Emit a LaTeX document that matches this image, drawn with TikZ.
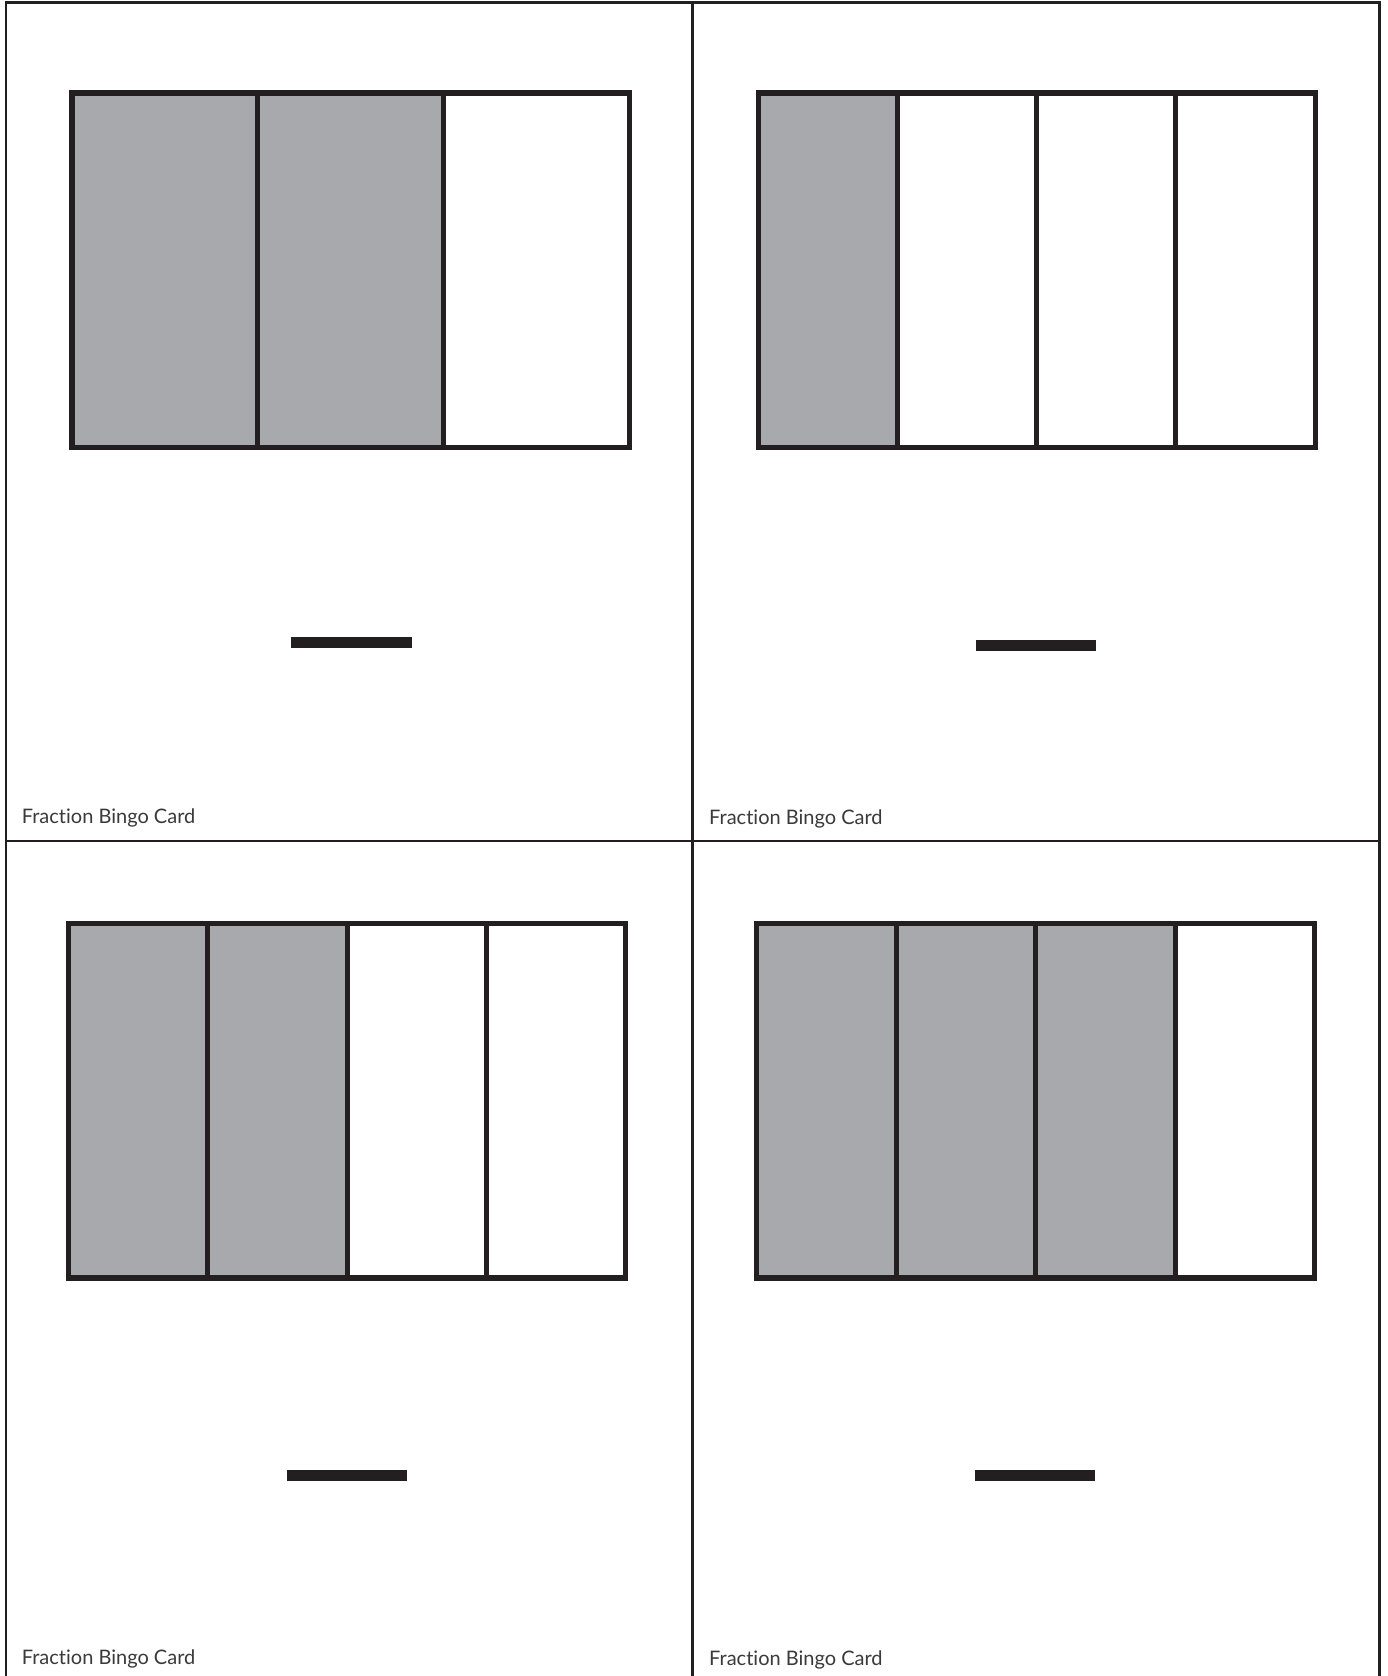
\documentclass[tikz,border=0pt]{standalone}
\usepackage{fontspec}
\setmainfont{Lato}[Ligatures=NoCommon,RawFeature={-liga;-dlig}]
\definecolor{ink}{HTML}{231F20}
\definecolor{shade}{HTML}{A7A9AC}
\definecolor{label}{HTML}{3A3A3A}
\begin{document}
\begin{tikzpicture}[x=1pt,y=-1pt,
  frame/.style={draw=ink,line width=2.6pt},
  barbox/.style={draw=ink,line width=5.5pt},
  part/.style={draw=ink,line width=5pt},
  shaded/.style={fill=shade},
  minusbar/.style={fill=ink},
  cardlabel/.style={anchor=base west,inner sep=0pt,text=label,font=\fontsize{20}{24}\selectfont}]
\useasboundingbox (0,0) rectangle (1387,1676);
\fill[white] (0,0) rectangle (1387,1676);
% outer frame and dividers
\draw[frame] (6,1680) -- (6,2.3) -- (1379.6,2.3) -- (1379.6,1680);
\draw[frame] (692.7,2) -- (692.7,1680);
\draw[frame] (6,841) -- (1379.6,841);
% card 1: 2/3
\fill[shaded] (72,93) rectangle (443.7,447.5);
\foreach \x in {257.8,443.7} \draw[part] (\x,93) -- (\x,447.5);
\draw[barbox] (72,93) rectangle (629.5,447.5);
\fill[minusbar] (291,637) rectangle (412,648);
\node[cardlabel] (l1) at (21.7,823) {Fraction Bingo Card};
% card 2: 1/4
\fill[shaded] (758.5,93) rectangle (897.3,447.5);
\foreach \x in {897.3,1036.5,1175.8} \draw[part] (\x,93) -- (\x,447.5);
\draw[barbox] (758.5,93) rectangle (1315.5,447.5);
\fill[minusbar] (976,640) rectangle (1096,651);
\node[cardlabel] (l2) at (709,824) {Fraction Bingo Card};
% card 3: 2/4
\fill[shaded] (68.5,923.5) rectangle (347,1278);
\foreach \x in {207.7,347,486.2} \draw[part] (\x,923.5) -- (\x,1278);
\draw[barbox] (68.5,923.5) rectangle (625.5,1278);
\fill[minusbar] (286.5,1470) rectangle (406.5,1481);
\node[cardlabel] (l3) at (21.7,1664) {Fraction Bingo Card};
% card 4: 3/4
\fill[shaded] (756.5,923.5) rectangle (1175,1278);
\foreach \x in {896,1035.5,1175} \draw[part] (\x,923.5) -- (\x,1278);
\draw[barbox] (756.5,923.5) rectangle (1314.5,1278);
\fill[minusbar] (974.5,1470) rectangle (1094.5,1481);
\node[cardlabel] (l4) at (709,1665) {Fraction Bingo Card};
\end{tikzpicture}
\end{document}
